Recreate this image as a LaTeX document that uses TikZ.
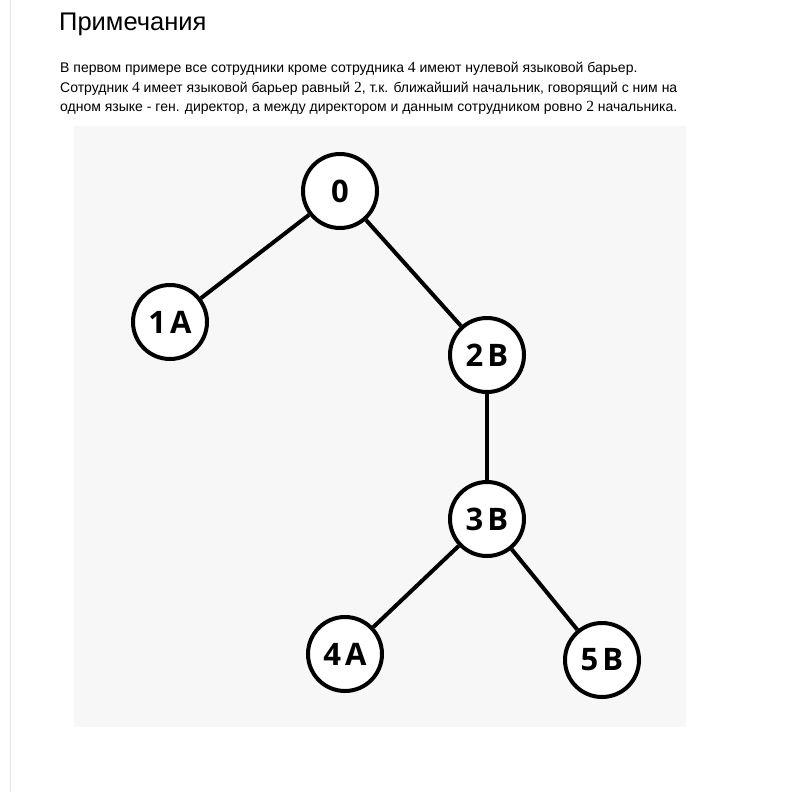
\documentclass[tikz,border=0pt]{standalone}
\usepackage{fontspec}
\setmainfont{Liberation Sans}
\newfontfamily\numfont{Liberation Serif}
\newfontfamily\nodefont{Open Sans}
\newcommand\bnum[1]{{\numfont\fontsize{15.5}{16}\selectfont #1}}
\tikzset{
  vert/.style={circle, draw=black, line width=4pt, fill=white, minimum size=74pt, inner sep=0pt,
    font=\nodefont\bfseries\fontsize{31}{31}\selectfont},
  edge/.style={draw=black, line width=4pt},
  bodytxt/.style={anchor=base west, inner sep=0pt, font=\fontsize{14}{16}\selectfont},
}
\definecolor{panel}{HTML}{F7F7F7}
\definecolor{rule}{HTML}{E4E4E4}
\begin{document}
\begin{tikzpicture}[x=1pt,y=-1pt]
\useasboundingbox (0,0) rectangle (802,792);
\fill[white] (0,0) rectangle (802,792);
\draw[rule, line width=1pt] (10,0) -- (10,792);
\fill[panel] (74,126) rectangle (686,727);
\node[anchor=base west, inner sep=0pt, font=\fontsize{25.5}{27}\selectfont] (title) at (59,31) {Примечания};
\node[bodytxt] (l1) at (60,72) {В первом примере все сотрудники кроме сотрудника \bnum{4} имеют нулевой языковой барьер.};
\node[bodytxt] (l2) at (60,92) {Сотрудник \bnum{4} имеет языковой барьер равный \bnum{2}, т.к. ближайший начальник, говорящий с ним на};
\node[bodytxt] (l3) at (60,111) {одном языке - ген. директор, а между директором и данным сотрудником ровно \bnum{2} начальника.};
\node[vert] (n0) at (340,191) {0};
\node[vert] (n1) at (170,322) {1\hspace{4pt}A};
\node[vert] (n2) at (487,355) {2\hspace{4pt}B};
\node[vert] (n3) at (487,519) {3\hspace{4pt}B};
\node[vert] (n4) at (345,654) {4\hspace{4pt}A};
\node[vert] (n5) at (602,660) {5\hspace{4pt}B};
\draw[edge] (n0) -- (n1);
\draw[edge] (n0) -- (n2);
\draw[edge] (n2) -- (n3);
\draw[edge] (n3) -- (n4);
\draw[edge] (n3) -- (n5);
\end{tikzpicture}
\end{document}
